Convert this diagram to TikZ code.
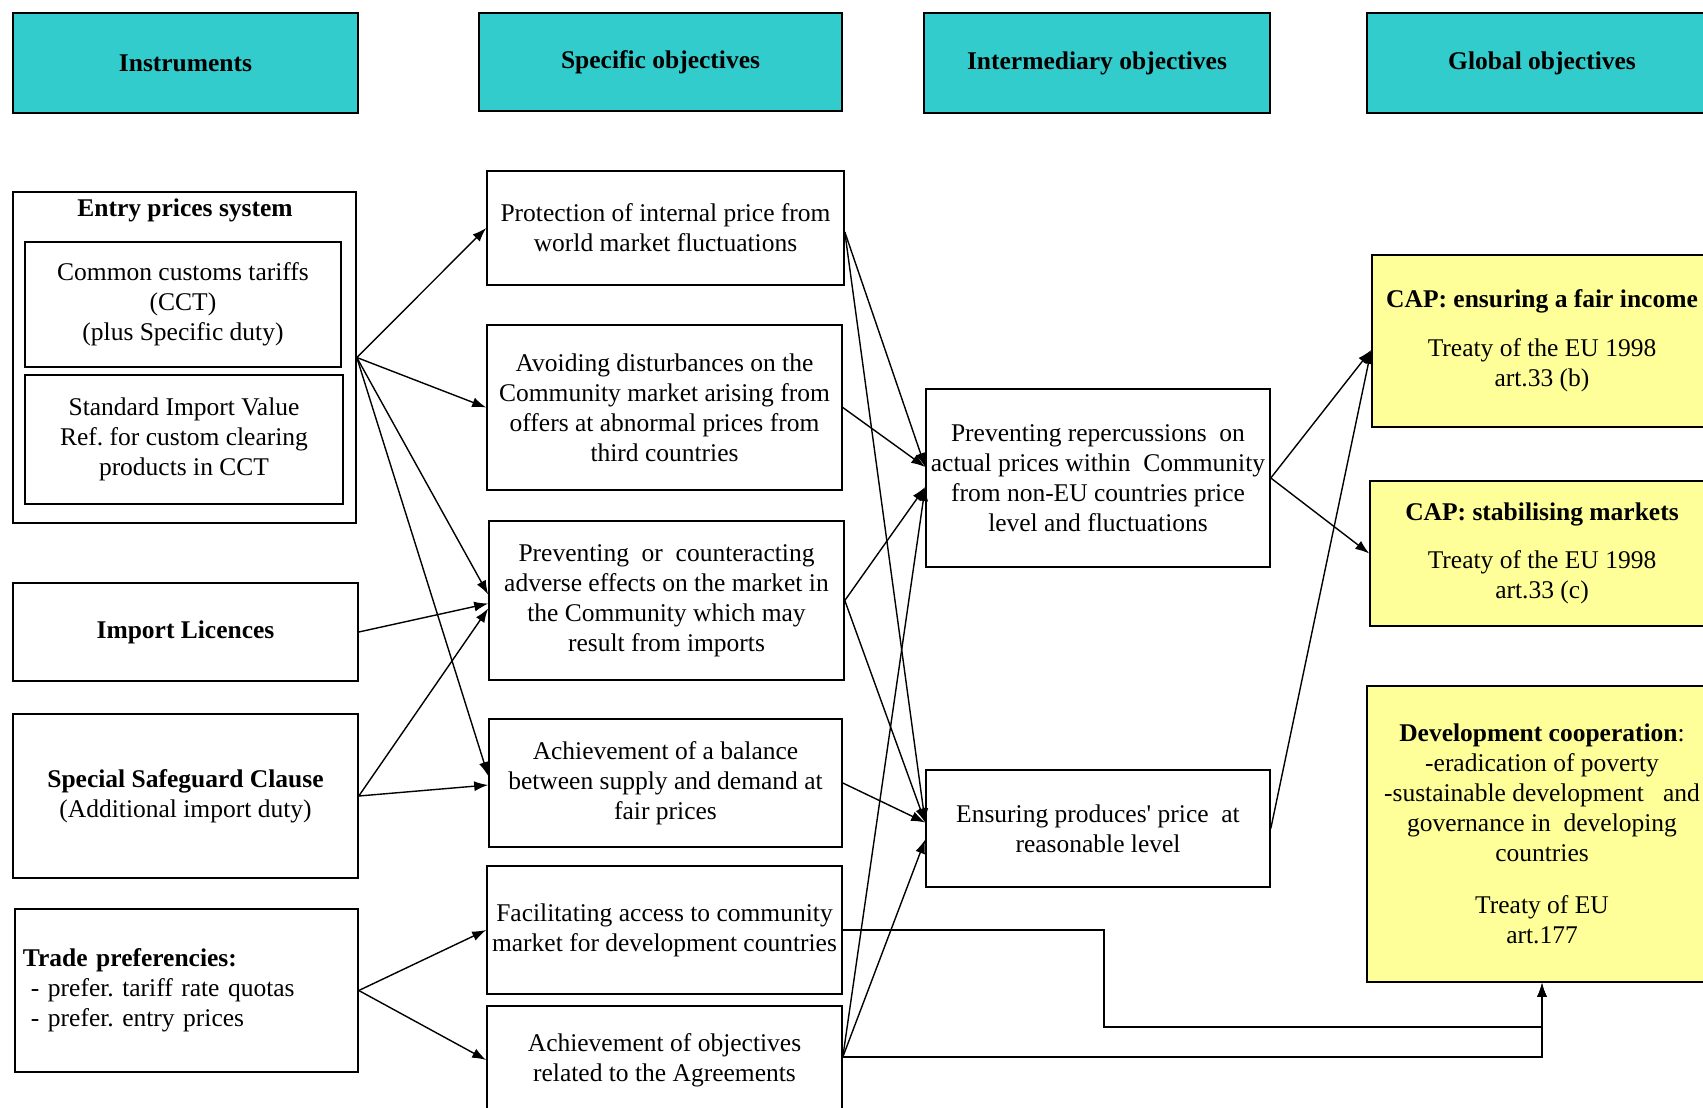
\documentclass[tikz,border=0pt]{standalone}
\usepackage{fontspec}
\setmainfont{Liberation Serif}
\usetikzlibrary{arrows.meta}
\definecolor{hdrteal}{RGB}{51,204,204}
\definecolor{goalyellow}{RGB}{255,255,153}
\frenchspacing
\tikzset{
	hdr/.style={draw, fill=hdrteal, line width=1.8pt, inner sep=0pt, font=\fontsize{25.5}{30}\selectfont\bfseries},
	box/.style={draw, fill=white, line width=1.6pt, inner sep=0pt, align=center, font=\fontsize{25.5}{30}\selectfont},
	goal/.style={box, fill=goalyellow},
	boxtitle/.style={inner sep=0pt, font=\fontsize{25.5}{30}\selectfont\bfseries},
	arr/.style={-{Latex[length=14pt,width=10pt]}, line width=1.4pt}
}

\begin{document}
\begin{tikzpicture}[x=1pt, y=-1pt]
			%%%%% START %%%%%
			\useasboundingbox (0,0) rectangle (1703,1108);
			\clip (0,0) rectangle (1703,1108);
			
			\node[hdr, minimum width=345pt, minimum height=100pt] (hins) at (185.5,63) {Instruments};
			\node[hdr, minimum width=363pt, minimum height=98pt] (hspec) at (660.5,62) {Specific objectives};
			\node[hdr, minimum width=346pt, minimum height=100pt] (hint) at (1097,63) {Intermediary objectives};
			\node[hdr, minimum width=350pt, minimum height=100pt] (hglob) at (1542,63) {Global objectives};
			
			\node[box, minimum width=343pt, minimum height=331pt] (ent) at (184.5,357.5) {};
			\node[boxtitle] (enttitle) at (185,210) {Entry prices system};
			\node[box, minimum width=316pt, minimum height=125pt] (cct) at (183,304.5) {Common customs tariffs\\(CCT)\\(plus Specific duty)};
			\node[box, minimum width=318pt, minimum height=129pt] (siv) at (184,439.5) {Standard Import Value\\Ref. for custom clearing\\products in CCT};
			\node[box, minimum width=345pt, minimum height=98pt] (lic) at (185.5,632) {\textbf{Import Licences}};
			\node[box, minimum width=345pt, minimum height=164pt] (ssc) at (185.5,796) {\textbf{Special Safeguard Clause}\\(Additional import duty)};
			\node[box, text width=327pt, inner xsep=8pt, align=left, minimum height=163pt] (trade) at (186.5,990.5) {\textbf{Trade preferencies:}\\\hspace*{8pt}- prefer. tariff rate quotas\\\hspace*{8pt}- prefer. entry prices};
			
			\node[box, minimum width=357pt, minimum height=114pt] (prot) at (665.5,228) {Protection of internal price from\\world market fluctuations};
			\node[box, minimum width=355pt, minimum height=165pt] (avoid) at (664.5,407.5) {Avoiding disturbances on the\\Community market arising from\\offers at abnormal prices from\\third countries};
			\node[box, minimum width=355pt, minimum height=159pt] (counter) at (666.5,600.5) {Preventing \ or \ counteracting\\adverse effects on the market in\\the Community which may\\result from imports};
			\node[box, minimum width=353pt, minimum height=128pt] (bal) at (665.5,783) {Achievement of a balance\\between supply and demand at\\fair prices};
			\node[box, minimum width=355pt, minimum height=128pt] (facil) at (664.5,930) {Facilitating access to community\\market for development countries};
			\node[box, minimum width=355pt, minimum height=108pt] (agree) at (664.5,1060) {Achievement of objectives\\related to the Agreements};
			
			\node[box, minimum width=344pt, minimum height=178pt] (rep) at (1098,478) {Preventing repercussions \ on\\actual prices within \ Community\\from non-EU countries price\\level and fluctuations};
			\node[box, minimum width=344pt, minimum height=117pt] (ens) at (1098,828.5) {Ensuring produces\textquotesingle{} price \ at\\reasonable level};
			
			\node[goal, minimum width=340pt, minimum height=172pt] (fair) at (1542,341) {\textbf{CAP: ensuring a fair income}\\[19pt]Treaty of the EU 1998\\art.33 (b)};
			\node[goal, minimum width=344pt, minimum height=145pt] (stab) at (1542,553.5) {\textbf{CAP: stabilising markets}\\[18pt]Treaty of the EU 1998\\art.33 (c)};
			\node[goal, minimum width=350pt, minimum height=296pt] (dev) at (1542,834) {\textbf{Development cooperation}:\\-eradication of poverty\\-sustainable development \ \ and\\governance in \ developing\\countries\\[22pt]Treaty of EU\\art.177};
			
			\draw[arr] (ent.east) -- (prot.west);
			\draw[arr] (ent.east) -- (avoid.west);
			\draw[arr] (ent.east) -- ([yshift=6pt]counter.west);
			\draw[arr] (ent.east) -- ([yshift=7pt]bal.west);
			\draw[arr] (lic.east) -- ([yshift=-3pt]counter.west);
			\draw[arr] (ssc.east) -- ([yshift=-8pt]counter.west);
			\draw[arr] (ssc.east) -- ([yshift=-2pt]bal.west);
			\draw[arr] (trade.east) -- (facil.west);
			\draw[arr] (trade.east) -- (agree.west);
			
			\draw[arr] ([yshift=-4pt]prot.east) -- ([yshift=11pt]rep.west);
			\draw[arr] ([yshift=-4pt]prot.east) -- ([yshift=6pt]ens.west);
			\draw[arr] (avoid.east) -- ([yshift=11pt]rep.west);
			\draw[arr] (counter.east) -- ([yshift=-9pt]rep.west);
			\draw[arr] (counter.east) -- ([yshift=6pt]ens.west);
			\draw[arr] (bal.east) -- ([yshift=6pt]ens.west);
			\draw[arr] ([yshift=3pt]agree.east) -- ([yshift=-9pt]rep.west);
			\draw[arr] ([yshift=3pt]agree.east) -- ([yshift=-11pt]ens.west);
			
			\coordinate (facbend) at (1104,1027);
			\draw[arr] (facil.east) -| (facbend) -| (dev.south);
			\draw[arr] ([yshift=3pt]agree.east) -| (dev.south);
			
			\draw[arr] (rep.east) -- ([yshift=-9pt]fair.west);
			\draw[arr] (rep.east) -- (stab.west);
			\draw[arr] (ens.east) -- ([yshift=-9pt]fair.west);
			%%%%% END %%%%%
\end{tikzpicture}
\end{document}
